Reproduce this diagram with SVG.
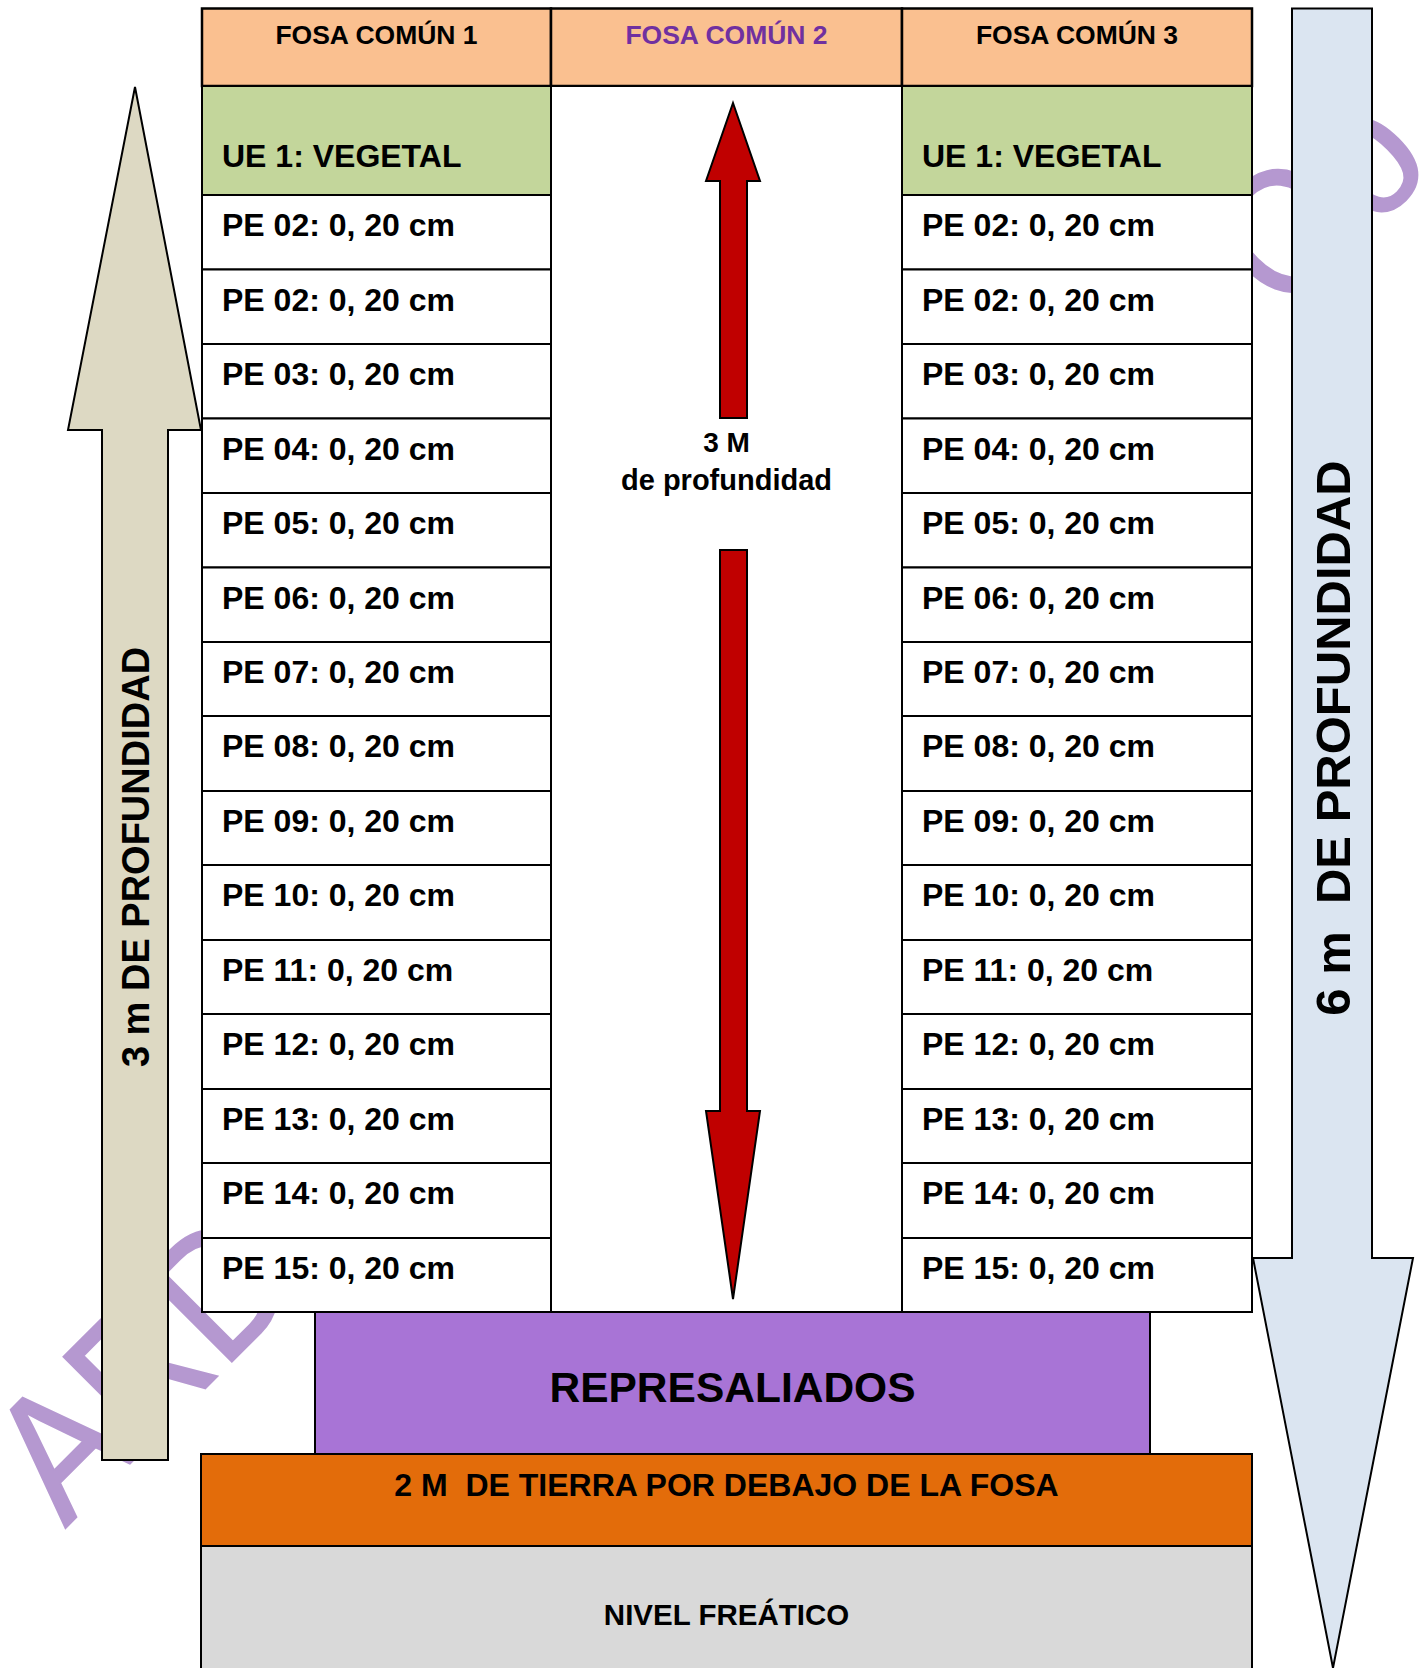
<svg xmlns="http://www.w3.org/2000/svg" width="1422" height="1668" viewBox="0 0 1422 1668">
<style>
.t{font-family:"Liberation Sans",Arial,sans-serif;font-weight:700;fill:#000}
.wm{font-family:"Liberation Sans",Arial,sans-serif;font-weight:400;fill:#B598D0;stroke:#B598D0;stroke-width:2}
.c{fill:#fff;stroke:#000;stroke-width:2}
.hd{fill:#FAC090;stroke:#000;stroke-width:2.5}
.gr{fill:#C3D69B;stroke:#000;stroke-width:2}
.row{font-size:32px}
.arr{stroke:#000;stroke-width:2;stroke-linejoin:miter}
</style>
<rect width="1422" height="1668" fill="#fff"/>
<g id="watermark" transform="translate(13,1401) rotate(-45)">
<g transform="scale(0.9,1)">
<text class="wm" x="-59" y="127" font-size="178">ARD</text>
<text class="wm" x="1850" y="134" font-size="178">Oo</text>
</g>
</g>
<g id="beige-arrow">
<path class="arr" fill="#DDD9C3" d="M135,87 L201,430 L168,430 L168,1460 L102,1460 L102,430 L68,430 Z"/>
<text class="t" font-size="38" transform="translate(135,857) rotate(-90)" x="0" y="13.5" text-anchor="middle">3 m DE PROFUNDIDAD</text>
</g>
<g id="blue-arrow">
<path class="arr" fill="#DBE5F1" d="M1292,8.5 L1372,8.5 L1372,1258 L1413,1258 L1333,1668 L1253,1258 L1292,1258 Z"/>
<text class="t" font-size="49" transform="translate(1332,738) rotate(-90)" x="0" y="17.5" text-anchor="middle" xml:space="preserve" style="white-space:pre">6 m  DE PROFUNDIDAD</text>
</g>
<g id="fosa1-header"><rect class="hd" x="202" y="8.5" width="349" height="77.5"/><text class="t" font-size="26.5" x="376.5" y="44" text-anchor="middle">FOSA COMÚN 1</text></g>
<g id="fosa2-header"><rect class="hd" x="551" y="8.5" width="351" height="77.5"/><text class="t" font-size="26.5" x="726.5" y="44" text-anchor="middle" style="fill:#7030A0">FOSA COMÚN 2</text></g>
<g id="fosa3-header"><rect class="hd" x="902" y="8.5" width="350" height="77.5"/><text class="t" font-size="26.5" x="1077" y="44" text-anchor="middle">FOSA COMÚN 3</text></g>
<g id="fosa1-ue1"><rect class="gr" x="202" y="86" width="349" height="109"/><text class="t row" x="222" y="167">UE 1: VEGETAL</text></g>
<g id="fosa3-ue1"><rect class="gr" x="902" y="86" width="350" height="109"/><text class="t row" x="922" y="167">UE 1: VEGETAL</text></g>
<g id="fosa1-rows">
<g id="f1-r1"><rect class="c" x="202" y="195" width="349" height="74.5"/><text class="t row" x="222" y="236">PE 02: 0, 20 cm</text></g>
<g id="f1-r2"><rect class="c" x="202" y="269.5" width="349" height="74.5"/><text class="t row" x="222" y="310.5">PE 02: 0, 20 cm</text></g>
<g id="f1-r3"><rect class="c" x="202" y="344" width="349" height="74.5"/><text class="t row" x="222" y="385">PE 03: 0, 20 cm</text></g>
<g id="f1-r4"><rect class="c" x="202" y="418.5" width="349" height="74.5"/><text class="t row" x="222" y="459.5">PE 04: 0, 20 cm</text></g>
<g id="f1-r5"><rect class="c" x="202" y="493" width="349" height="74.5"/><text class="t row" x="222" y="534">PE 05: 0, 20 cm</text></g>
<g id="f1-r6"><rect class="c" x="202" y="567.5" width="349" height="74.5"/><text class="t row" x="222" y="608.5">PE 06: 0, 20 cm</text></g>
<g id="f1-r7"><rect class="c" x="202" y="642" width="349" height="74"/><text class="t row" x="222" y="683">PE 07: 0, 20 cm</text></g>
<g id="f1-r8"><rect class="c" x="202" y="716" width="349" height="75"/><text class="t row" x="222" y="757">PE 08: 0, 20 cm</text></g>
<g id="f1-r9"><rect class="c" x="202" y="791" width="349" height="74"/><text class="t row" x="222" y="832">PE 09: 0, 20 cm</text></g>
<g id="f1-r10"><rect class="c" x="202" y="865" width="349" height="75"/><text class="t row" x="222" y="906">PE 10: 0, 20 cm</text></g>
<g id="f1-r11"><rect class="c" x="202" y="940" width="349" height="74"/><text class="t row" x="222" y="981">PE 11: 0, 20 cm</text></g>
<g id="f1-r12"><rect class="c" x="202" y="1014" width="349" height="75"/><text class="t row" x="222" y="1055">PE 12: 0, 20 cm</text></g>
<g id="f1-r13"><rect class="c" x="202" y="1089" width="349" height="74"/><text class="t row" x="222" y="1130">PE 13: 0, 20 cm</text></g>
<g id="f1-r14"><rect class="c" x="202" y="1163" width="349" height="75"/><text class="t row" x="222" y="1204">PE 14: 0, 20 cm</text></g>
<g id="f1-r15"><rect class="c" x="202" y="1238" width="349" height="74"/><text class="t row" x="222" y="1279">PE 15: 0, 20 cm</text></g>
</g>
<g id="fosa3-rows">
<g id="f3-r1"><rect class="c" x="902" y="195" width="350" height="74.5"/><text class="t row" x="922" y="236">PE 02: 0, 20 cm</text></g>
<g id="f3-r2"><rect class="c" x="902" y="269.5" width="350" height="74.5"/><text class="t row" x="922" y="310.5">PE 02: 0, 20 cm</text></g>
<g id="f3-r3"><rect class="c" x="902" y="344" width="350" height="74.5"/><text class="t row" x="922" y="385">PE 03: 0, 20 cm</text></g>
<g id="f3-r4"><rect class="c" x="902" y="418.5" width="350" height="74.5"/><text class="t row" x="922" y="459.5">PE 04: 0, 20 cm</text></g>
<g id="f3-r5"><rect class="c" x="902" y="493" width="350" height="74.5"/><text class="t row" x="922" y="534">PE 05: 0, 20 cm</text></g>
<g id="f3-r6"><rect class="c" x="902" y="567.5" width="350" height="74.5"/><text class="t row" x="922" y="608.5">PE 06: 0, 20 cm</text></g>
<g id="f3-r7"><rect class="c" x="902" y="642" width="350" height="74"/><text class="t row" x="922" y="683">PE 07: 0, 20 cm</text></g>
<g id="f3-r8"><rect class="c" x="902" y="716" width="350" height="75"/><text class="t row" x="922" y="757">PE 08: 0, 20 cm</text></g>
<g id="f3-r9"><rect class="c" x="902" y="791" width="350" height="74"/><text class="t row" x="922" y="832">PE 09: 0, 20 cm</text></g>
<g id="f3-r10"><rect class="c" x="902" y="865" width="350" height="75"/><text class="t row" x="922" y="906">PE 10: 0, 20 cm</text></g>
<g id="f3-r11"><rect class="c" x="902" y="940" width="350" height="74"/><text class="t row" x="922" y="981">PE 11: 0, 20 cm</text></g>
<g id="f3-r12"><rect class="c" x="902" y="1014" width="350" height="75"/><text class="t row" x="922" y="1055">PE 12: 0, 20 cm</text></g>
<g id="f3-r13"><rect class="c" x="902" y="1089" width="350" height="74"/><text class="t row" x="922" y="1130">PE 13: 0, 20 cm</text></g>
<g id="f3-r14"><rect class="c" x="902" y="1163" width="350" height="75"/><text class="t row" x="922" y="1204">PE 14: 0, 20 cm</text></g>
<g id="f3-r15"><rect class="c" x="902" y="1238" width="350" height="74"/><text class="t row" x="922" y="1279">PE 15: 0, 20 cm</text></g>
</g>
<g id="fosa2-body">
<rect class="c" x="551" y="86" width="351" height="1226"/>
<text class="t" font-size="28" x="726.5" y="452" text-anchor="middle">3 M</text>
<text class="t" font-size="29" x="726.5" y="490" text-anchor="middle">de profundidad</text>
</g>
<g id="connectors">
<path class="arr" fill="#C00000" d="M733,103 L760,181 L747,181 L747,418 L720,418 L720,181 L706,181 Z"/>
<path class="arr" fill="#C00000" d="M720,550 L747,550 L747,1111 L760,1111 L733,1299 L706,1111 L720,1111 Z"/>
</g>
<g id="represaliados"><rect x="315" y="1312" width="835" height="142" fill="#A874D6" stroke="#000" stroke-width="2"/><text class="t" font-size="42.5" x="732.5" y="1402" text-anchor="middle">REPRESALIADOS</text></g>
<g id="tierra"><rect x="201" y="1454" width="1051" height="92" fill="#E36C0A" stroke="#000" stroke-width="2"/><text class="t" font-size="32" x="726.5" y="1496" text-anchor="middle" xml:space="preserve" style="white-space:pre">2 M  DE TIERRA POR DEBAJO DE LA FOSA</text></g>
<g id="nivel-freatico"><rect x="201" y="1546" width="1051" height="130" fill="#D9D9D9" stroke="#000" stroke-width="2"/><text class="t" font-size="29.5" x="726.5" y="1625" text-anchor="middle">NIVEL FREÁTICO</text></g>
</svg>
